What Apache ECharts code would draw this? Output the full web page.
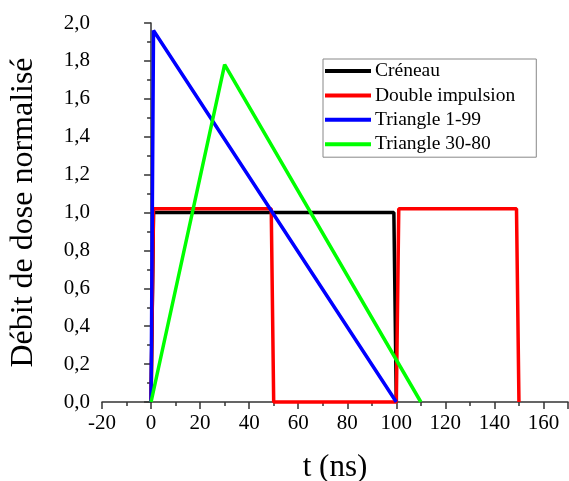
<!DOCTYPE html>
<html>
<head>
<meta charset="utf-8">
<script src="https://cdn.jsdelivr.net/npm/echarts@6/dist/echarts.min.js"></script>
<style>
html,body{margin:0;padding:0;background:#fff;}
#chart{width:569px;height:481px;}
</style>
</head>
<body>
<div id="chart"></div>
<script>
// Data (t in ns, normalized dose rate)
const seriesNames = ['Créneau', 'Double impulsion', 'Triangle 1-99', 'Triangle 30-80'];
const creneauT = [0, 1, 99, 100];
const creneauV = [0, 1.0, 1.0, 0];
const doubleT = [0, 1, 49, 50, 100, 101, 149, 150];
const doubleV = [0, 1.02, 1.02, 0, 0, 1.02, 1.02, 0];
const tri199T = [0, 1, 100];
const tri199V = [0, 1.96, 0];
const tri3080T = [0, 30, 110];
const tri3080V = [0, 1.78, 0];
const colors = ['#000000', '#ff0000', '#0000ff', '#00ff00'];
const xTicks = [-20, 0, 20, 40, 60, 80, 100, 120, 140, 160];

const pairs = (t, v) => t.map((x, i) => [x, v[i]]);
const allData = [pairs(creneauT, creneauV), pairs(doubleT, doubleV), pairs(tri199T, tri199V), pairs(tri3080T, tri3080V)];

const font = 'Liberation Serif';
const axisColor = '#333';
const chart = echarts.init(document.getElementById('chart'), null, {renderer: 'canvas'});
chart.setOption({
  animation: false,
  backgroundColor: '#fff',
  grid: {left: 102, right: 1, top: 23, bottom: 79, containLabel: false, outerBoundsMode: 'none'},
  legend: {
    left: 323, top: 59,
    orient: 'vertical',
    data: seriesNames,
    icon: 'rect',
    itemWidth: 46, itemHeight: 4, itemGap: 4.4,
    padding: [2, 21, 3, 2],
    borderColor: '#888', borderWidth: 1,
    textStyle: {fontFamily: font, fontSize: 19.5, color: '#000', lineHeight: 20, padding: [0, 0, 0, -1]}
  },
  xAxis: {
    type: 'value', min: -20, max: 170, interval: 20,
    name: 't (ns)', nameLocation: 'middle', nameGap: 50,
    nameTextStyle: {fontFamily: font, fontSize: 31, color: '#000'},
    axisLine: {show: true, onZero: false, lineStyle: {color: axisColor, width: 1.5}},
    axisTick: {show: true, inside: false, length: 7, lineStyle: {color: axisColor, width: 1.5}},
    minorTick: {show: true, splitNumber: 2, length: 4, lineStyle: {color: axisColor, width: 1.5}},
    splitLine: {show: false},
    axisLabel: {fontFamily: font, fontSize: 21, color: '#000', margin: 11, showMaxLabel: false,
      formatter: v => xTicks.includes(v) ? String(v) : ''}
  },
  yAxis: {
    type: 'value', min: 0, max: 2, interval: 0.2,
    name: 'Débit de dose normalisé', nameLocation: 'middle', nameGap: 62,
    nameTextStyle: {fontFamily: font, fontSize: 32, color: '#000', padding: [0, 0, 0, 0]},
    axisLine: {show: true, lineStyle: {color: axisColor, width: 1.5}},
    axisTick: {show: true, inside: false, length: 7, lineStyle: {color: axisColor, width: 1.5}},
    minorTick: {show: true, splitNumber: 2, length: 4, lineStyle: {color: axisColor, width: 1.5}},
    splitLine: {show: false},
    axisLabel: {fontFamily: font, fontSize: 21, color: '#000', margin: 12,
      formatter: v => v.toFixed(1).replace('.', ',')}
  },
  series: seriesNames.map((n, i) => ({
    name: n, type: 'line', data: allData[i],
    showSymbol: false, symbol: 'none',
    color: colors[i],
    lineStyle: {color: colors[i], width: 3.5},
    clip: false
  }))
});
</script>
</body>
</html>
